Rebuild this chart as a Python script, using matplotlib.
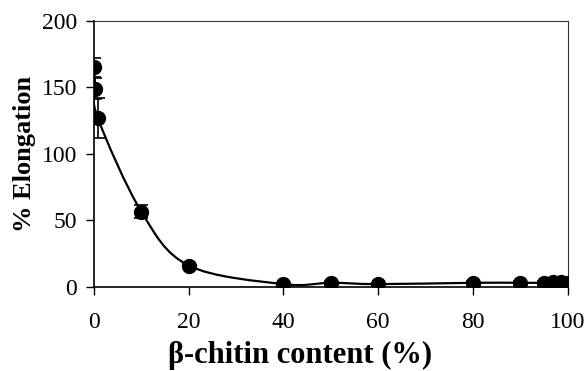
import numpy as np
import matplotlib
matplotlib.use("Agg")
import matplotlib.pyplot as plt
from matplotlib.path import Path
from matplotlib.patches import PathPatch

# beta-chitin content (%) vs elongation at break (%)
chitin_content = [0, 0.3, 0.8, 10, 20, 40, 50, 60, 80, 90, 95, 97, 98.5, 100]
elongation = [165, 149, 127, 56.5, 16, 2, 3, 2, 3, 3, 3, 3.5, 3.5, 3]
elongation_err = [7, 8, 15, 5, 1.5, 0.5, 1, 0.5, 1, 1, 1, 0.5, 0.5, 0.5]

x_ticks = [0, 20, 40, 60, 80, 100]
y_ticks = [0, 50, 100, 150, 200]


def smooth_path(xs, ys, tension=1.0 / 6.0):
    """Spreadsheet-style smoothed line: cubic Bezier segments through every point."""
    xs = np.asarray(xs, dtype=float)
    ys = np.asarray(ys, dtype=float)
    pts = np.column_stack([xs, ys])
    n = len(pts)
    verts = [pts[0]]
    codes = [Path.MOVETO]
    for i in range(n - 1):
        p0 = pts[i - 1] if i > 0 else pts[i]
        p1 = pts[i]
        p2 = pts[i + 1]
        p3 = pts[i + 2] if i + 2 < n else pts[i + 1]
        c1 = p1 + (p2 - p0) * tension
        c2 = p2 - (p3 - p1) * tension
        verts += [c1, c2, p2]
        codes += [Path.CURVE4] * 3
    return Path(verts, codes)


plt.rcParams["font.family"] = ["Liberation Serif", "DejaVu Serif"]

fig = plt.figure(figsize=(5.87, 3.71), dpi=100)
ax = fig.add_axes([0.160, 0.227, 0.807, 0.717])

ax.add_patch(PathPatch(smooth_path(chitin_content, elongation),
                       facecolor="none", edgecolor="black", lw=1.6, zorder=2))
ax.errorbar(chitin_content, elongation, yerr=elongation_err, fmt="o",
            color="black", ms=10, elinewidth=1.2, capsize=5, capthick=1.2,
            zorder=3)

ax.set_xlim(0, 100)
ax.set_ylim(0, 200)
ax.set_xticks(x_ticks)
ax.set_yticks(y_ticks)
ax.tick_params(direction="out", length=6, width=1, labelsize=17,
               colors="black")
ax.tick_params(axis="x", pad=12)
ax.tick_params(axis="y", pad=6)

for side in ("left", "bottom"):
    ax.spines[side].set_linewidth(1.2)
for side in ("top", "right"):
    ax.spines[side].set_linewidth(0.8)
    ax.spines[side].set_color("#333333")

ax.set_xlabel("β-chitin content (%)", fontsize=22, fontweight="bold")
ax.xaxis.set_label_coords(0.435, -0.205)
ax.set_ylabel("% Elongation", fontsize=19, fontweight="bold", labelpad=4)

fig.savefig("out.png", dpi=100)
